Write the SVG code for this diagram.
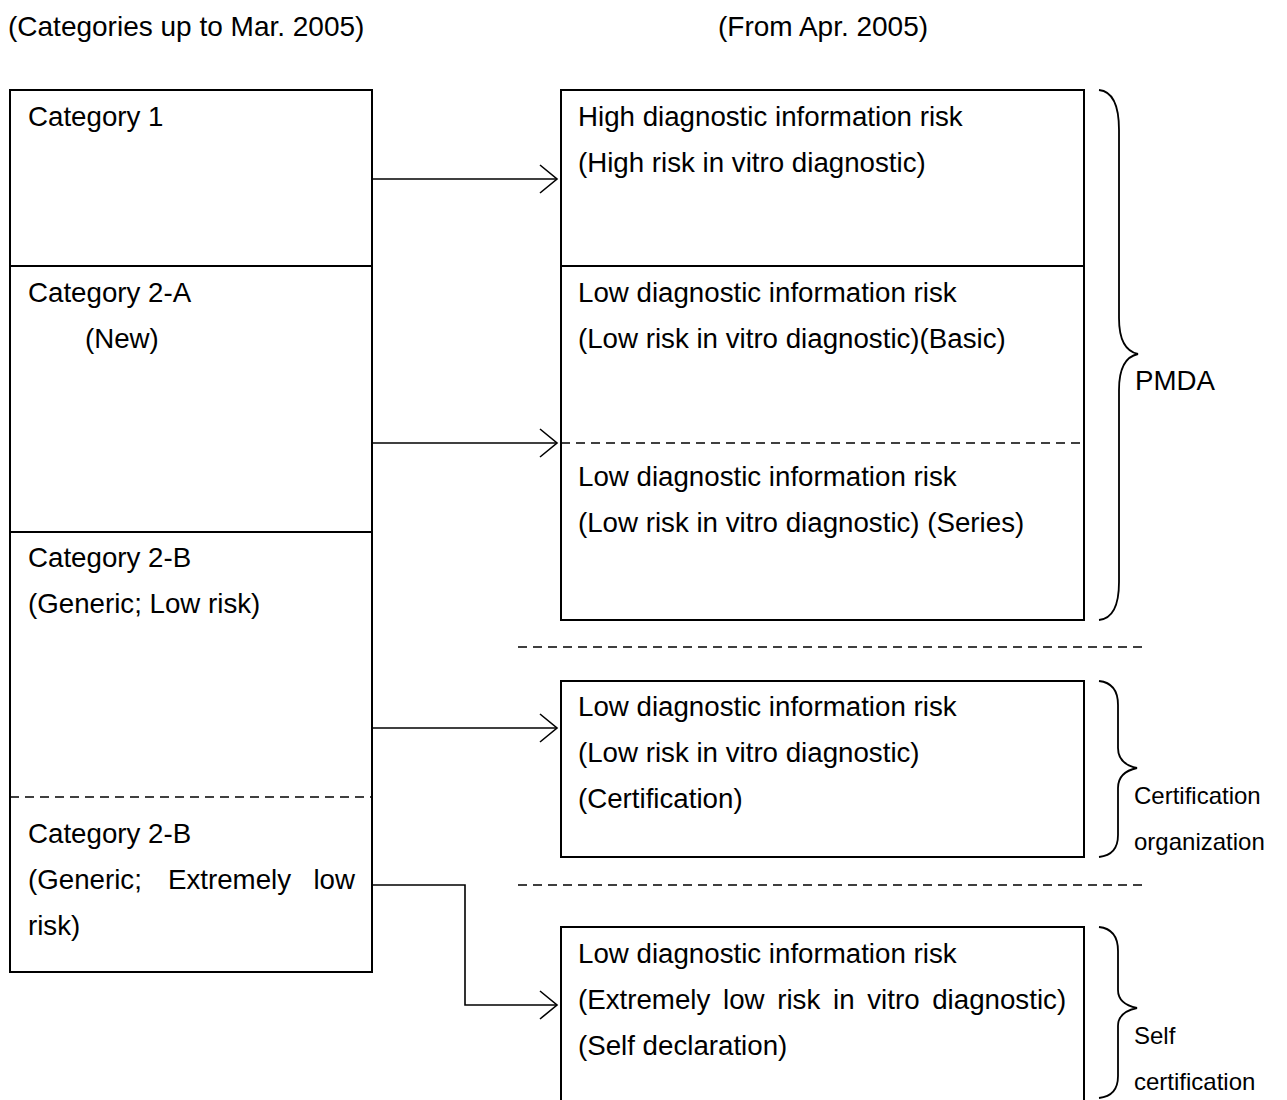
<svg xmlns="http://www.w3.org/2000/svg" width="1287" height="1100" viewBox="0 0 1287 1100">
<style>
text{font-family:"Liberation Sans",Arial,sans-serif;font-size:27.7px;fill:#000}
.hdr{font-size:28px}
.sm{font-size:24px}
.box{fill:#fff;stroke:#000;stroke-width:2}
.div{stroke:#000;stroke-width:2;fill:none}
.dash{stroke:#000;stroke-width:1.5;stroke-dasharray:9 6;fill:none}
.conn{stroke:#000;stroke-width:1.6;fill:none}
.brace{stroke:#000;stroke-width:1.8;fill:none}
</style>
<rect width="1287" height="1100" fill="#fff"/>
<text class="hdr" x="8" y="36">(Categories up to Mar. 2005)</text>
<text class="hdr" x="718" y="36">(From Apr. 2005)</text>

<g id="left">
<rect class="box" x="10" y="90" width="362" height="882"/>
<line class="div" x1="10" y1="266" x2="372" y2="266"/>
<line class="div" x1="10" y1="532" x2="372" y2="532"/>
<line class="dash" x1="10" y1="797" x2="372" y2="797"/>
<text x="28" y="126">Category 1</text>
<text x="28" y="302">Category 2-A</text>
<text x="85" y="348">(New)</text>
<text x="28" y="567">Category 2-B</text>
<text x="28" y="613">(Generic; Low risk)</text>
<text x="28" y="843">Category 2-B</text>
<text x="28" y="889">(Generic;</text>
<text x="168" y="889">Extremely</text>
<text x="355" y="889" text-anchor="end">low</text>
<text x="28" y="935">risk)</text>
</g>

<g id="pmda-box">
<rect class="box" x="561" y="90" width="523" height="530"/>
<line class="div" x1="561" y1="266" x2="1084" y2="266"/>
<line class="dash" x1="561" y1="443" x2="1084" y2="443"/>
<text x="578" y="126">High diagnostic information risk</text>
<text x="578" y="172">(High risk in vitro diagnostic)</text>
<text x="578" y="302">Low diagnostic information risk</text>
<text x="578" y="348">(Low risk in vitro diagnostic)(Basic)</text>
<text x="578" y="486">Low diagnostic information risk</text>
<text x="578" y="532">(Low risk in vitro diagnostic) (Series)</text>
</g>

<g id="cert-box">
<rect class="box" x="561" y="681" width="523" height="176"/>
<text x="578" y="716">Low diagnostic information risk</text>
<text x="578" y="762">(Low risk in vitro diagnostic)</text>
<text x="578" y="808">(Certification)</text>
</g>

<g id="self-box">
<rect class="box" x="561" y="927" width="523" height="180"/>
<text x="578" y="963">Low diagnostic information risk</text>
<text x="578" y="1009" word-spacing="5">(Extremely low risk in vitro diagnostic)</text>
<text x="578" y="1055">(Self declaration)</text>
</g>

<g id="separators">
<line class="dash" x1="518" y1="647" x2="1143" y2="647"/>
<line class="dash" x1="518" y1="885" x2="1143" y2="885"/>
</g>

<g id="brace-pmda">
<path class="brace" d="M1099,90 Q1119,92 1119,130 L1119,318 Q1119,350 1138,354 Q1119,358 1119,390 L1119,582 Q1119,618 1099,620"/>
<text x="1135" y="390">PMDA</text>
</g>
<g id="brace-cert">
<path class="brace" d="M1099,681 Q1118,683 1118,705 L1118,748 Q1118,764 1137,768 Q1118,772 1118,788 L1118,835 Q1118,855 1099,857"/>
<text class="sm" x="1134" y="804">Certification</text>
<text class="sm" x="1134" y="850">organization</text>
</g>
<g id="brace-self">
<path class="brace" d="M1099,927 Q1118,929 1118,951 L1118,990 Q1118,1004 1137,1008 Q1118,1012 1118,1026 L1118,1076 Q1118,1096 1099,1098"/>
<text class="sm" x="1134" y="1044">Self</text>
<text class="sm" x="1134" y="1090">certification</text>
</g>

<g id="connectors">
<path class="conn" d="M372,179 H557"/>
<path class="conn" d="M540,165 L557,179 L540,193"/>
<path class="conn" d="M372,443 H557"/>
<path class="conn" d="M540,429 L557,443 L540,457"/>
<path class="conn" d="M372,728 H557"/>
<path class="conn" d="M540,714 L557,728 L540,742"/>
<path class="conn" d="M372,885 H465 V1005 H557"/>
<path class="conn" d="M540,991 L557,1005 L540,1019"/>
</g>
</svg>
